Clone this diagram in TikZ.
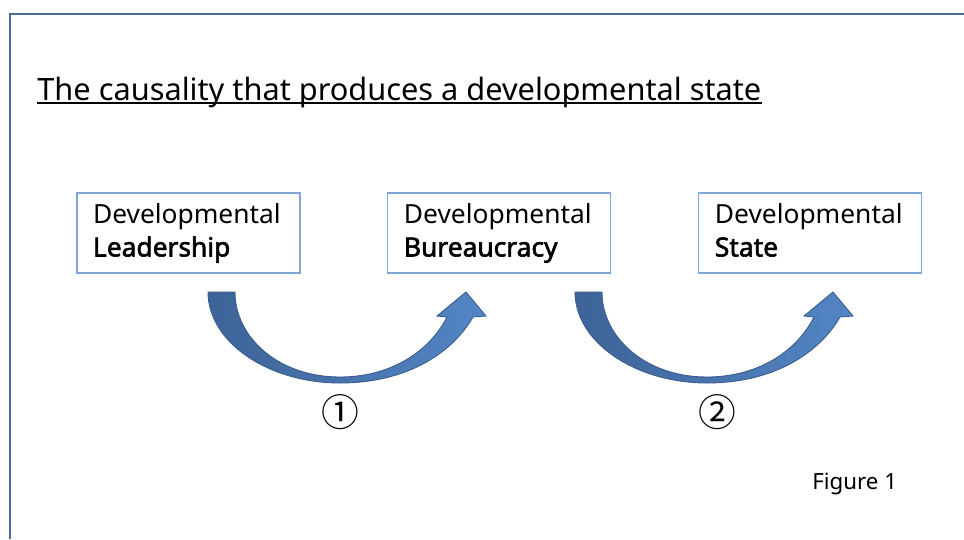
\documentclass[tikz,border=0pt]{standalone}
\usepackage{fontspec}
\setmainfont{Noto Sans}[BoldFont={Noto Sans}, BoldFeatures={FakeBold=2.2}]
\newfontfamily\cjk{Noto Sans CJK KR}
\usetikzlibrary{chains,positioning}

\definecolor{frameblue}{HTML}{4A6C9B}
\definecolor{boxblue}{HTML}{7EA6D8}
\definecolor{arrowdark}{HTML}{3D6397}
\definecolor{arrowlight}{HTML}{5386C6}
\definecolor{arrowline}{HTML}{3A5D8C}

\begin{document}
\begin{tikzpicture}[x=0.02cm, y=-0.02cm,
node distance=1.76cm,
 start chain = B going right,
    box/.style = {rectangle, draw=boxblue, line width=0.6pt,% boxes in a row (chain)
                  minimum width=4.46cm, minimum height=1.6cm,
                  text width=3.82cm, inner xsep=0.32cm, align=left,
                  font=\fontsize{15}{18.9}\selectfont,
                  outer sep=0pt, on chain},
    num/.style = {font=\cjk\fontsize{21.5}{21.5}\selectfont, inner sep=0pt},
  swoop/.pic  = {% bent arrow, drawn from the tail's left corner
        \path[draw=arrowline, line width=0.5pt, left color=arrowdark, right color=arrowlight]
            (0,0) .. controls (0,50) and (60,91) .. (132,91)
                  .. controls (200,91) and (245,60) .. (265,25)
            -- (278,24) -- (258,0) -- (229,24) -- (239,25)
                  .. controls (220,62) and (180,85) .. (132,85)
                  .. controls (70,85) and (27,45) .. (27,0) -- cycle;
                  },
                        ]
\useasboundingbox (0,0) rectangle (964,539);
% frame
\draw[frameblue, line width=0.05cm] (10,539) -- (10,14) -- (964,14);
% title
\node[anchor=base west, inner sep=0pt, font=\fontsize{17.5}{20}\selectfont]
    (title) at (37,100) {The causality that produces a developmental state};
\draw[line width=0.6pt] ([yshift=-0.06cm]title.base west) -- ([yshift=-0.06cm]title.base east);
% boxes
\node[box] at (188.5,233) {Developmental\\\textbf{Leadership}\vphantom{p}};
\foreach \i in {Bureaucracy,State}% <-- content of nodes
    \node[box] {Developmental\\\textbf{\i}\vphantom{p}};
% arrows and their numbers
\foreach \x/\m/\c [count=\k] in {208/340/①,575/717/②}
{
    \pic at (\x,292) {swoop};
    \node[num] (n\k) at (\m,412) {\c};
}
\node[anchor=base west, inner sep=0pt, font=\fontsize{12.7}{15}\selectfont]
    (fig) at (812,489) {Figure 1};
\end{tikzpicture}
\end{document}
